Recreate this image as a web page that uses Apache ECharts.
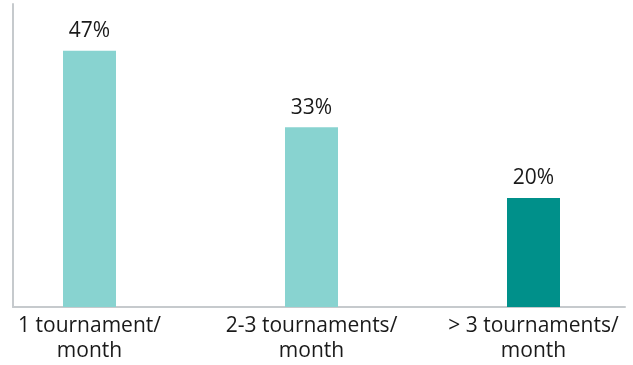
<!DOCTYPE html>
<html>
<head>
<meta charset="utf-8">
<script src="https://cdn.jsdelivr.net/npm/echarts@6/dist/echarts.min.js"></script>
<style>
html,body{margin:0;padding:0;background:#fff;}
#chart{width:633px;height:365px;}
</style>
</head>
<body>
<div id="chart"></div>
<script>
const categories = ['1 tournament/\nmonth', '2-3 tournaments/\nmonth', '> 3 tournaments/\nmonth'];
const values = [47, 33, 20];
const labelTexts = ['47%', '33%', '20%'];

const barColors = ['#88d3d0', '#88d3d0', '#00908a'];
const FONT = '"Open Sans", sans-serif';
const YMAX = 55.6;

const chart = echarts.init(document.getElementById('chart'), null, {renderer: 'canvas'});
chart.setOption({
  animation: false,
  backgroundColor: '#ffffff',
  grid: [
    {left: 13, right: 8, top: 4, bottom: 58, containLabel: false, outerBoundsMode: 'none'},
    {left: -21.5, width: 666, top: 4, bottom: 58, containLabel: false, outerBoundsMode: 'none'}
  ],
  xAxis: [
    {
      gridIndex: 0, type: 'category', data: categories,
      axisLine: {show: true, lineStyle: {color: '#c6cacd', width: 2}},
      axisTick: {show: false}, axisLabel: {show: false}, splitLine: {show: false}
    },
    {
      gridIndex: 1, type: 'category', data: categories,
      axisLine: {show: false}, axisTick: {show: false}, splitLine: {show: false},
      axisLabel: {
        show: true, interval: 0, margin: 7,
        fontFamily: FONT, fontSize: 21, lineHeight: 25, color: '#1a1a1a'
      }
    }
  ],
  yAxis: [
    {
      gridIndex: 0, type: 'value', min: 0, max: YMAX,
      axisLine: {show: true, lineStyle: {color: '#c6cacd', width: 2}},
      axisTick: {show: false}, axisLabel: {show: false}, splitLine: {show: false}
    },
    {
      gridIndex: 1, type: 'value', min: 0, max: YMAX, show: false,
      splitLine: {show: false}
    }
  ],
  series: [{
    type: 'bar',
    xAxisIndex: 1, yAxisIndex: 1,
    barWidth: 53,
    data: values.map((v, i) => ({value: v, itemStyle: {color: barColors[i]}})),
    label: {
      show: true, position: 'top', distance: 9,
      formatter: p => labelTexts[p.dataIndex],
      fontFamily: FONT, fontSize: 21, color: '#1a1a1a'
    }
  }]
});
</script>
</body>
</html>
